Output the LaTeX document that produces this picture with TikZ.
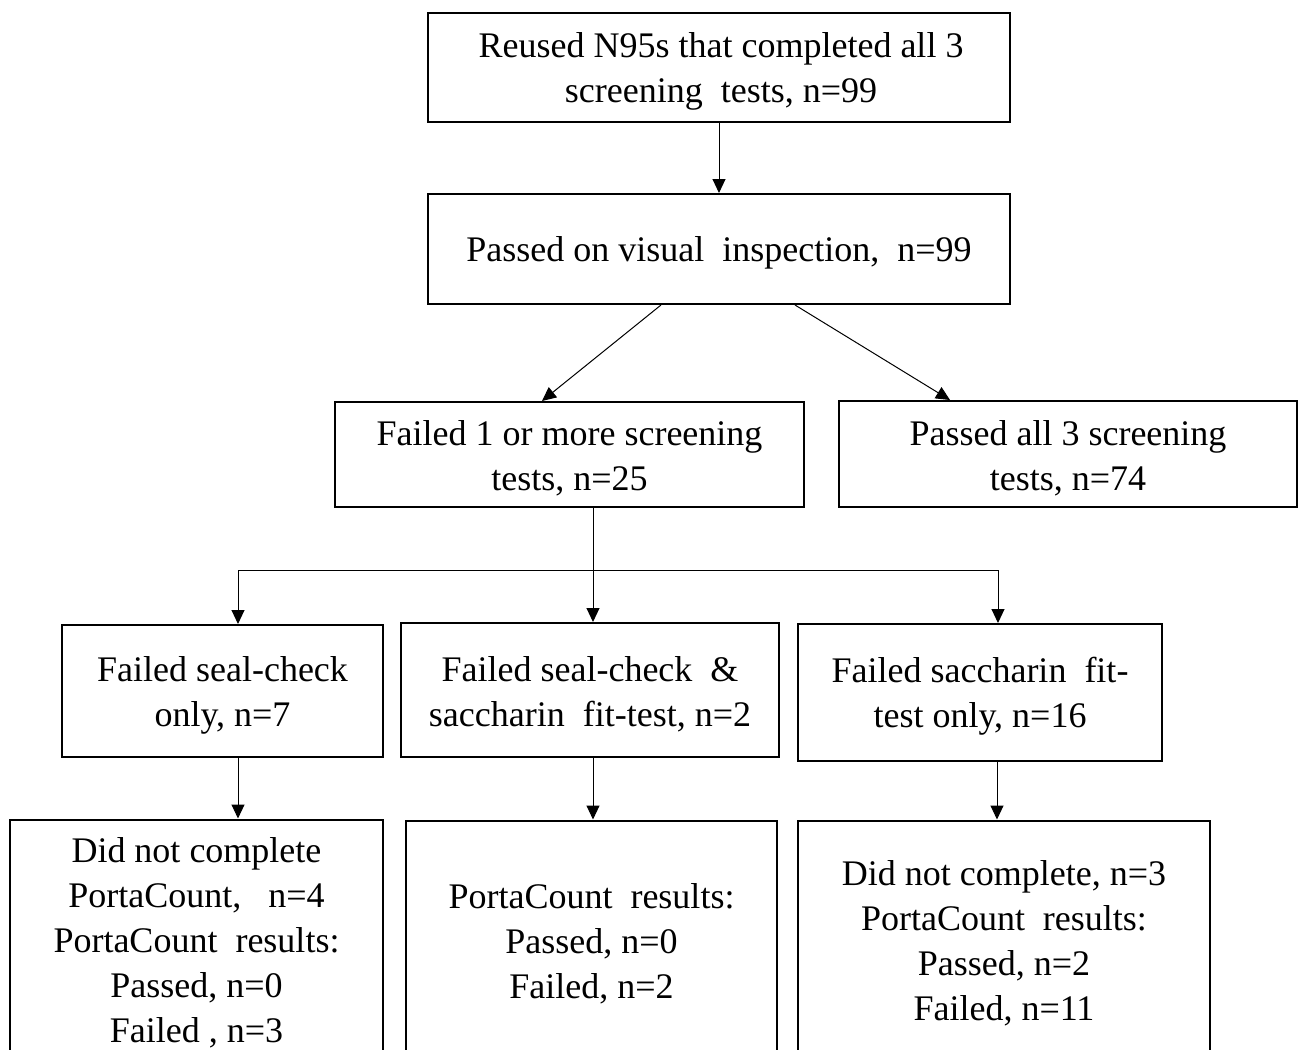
\documentclass[tikz,border=0pt]{standalone}
\usepackage{fontspec}
\setmainfont{Liberation Serif}
\usetikzlibrary{arrows.meta,calc}
\tikzset{
  box/.style={draw, line width=1pt, inner sep=0pt},
  txt/.style={align=center, inner sep=0pt, font=\fontsize{18}{22.5}\selectfont},
  arr/.style={line width=0.5pt, -{Triangle[length=7pt,width=6.5pt]}},
  ln/.style={line width=0.5pt}
}
\begin{document}
\begin{tikzpicture}[x=0.5pt,y=-0.5pt]
\useasboundingbox (0,0) rectangle (1298,1050);
\node[box, minimum width=291pt, minimum height=54.5pt] (b1) at (719,67.5) {};
\node[box, minimum width=291pt, minimum height=55pt] (b2) at (719,249) {};
\node[box, minimum width=234.5pt, minimum height=52.5pt] (b3) at (569.5,454.5) {};
\node[box, minimum width=229pt, minimum height=53pt] (b4) at (1068,454) {};
\node[box, minimum width=160.5pt, minimum height=66pt] (b5) at (222.5,691) {};
\node[box, minimum width=189pt, minimum height=67pt] (b6) at (590,690) {};
\node[box, minimum width=182pt, minimum height=68.5pt] (b7) at (980,692.5) {};
\node[box, minimum width=186.5pt, minimum height=119pt] (b8) at (196.5,938.5) {};
\node[box, minimum width=185.5pt, minimum height=119pt] (b9) at (591.5,939.5) {};
\node[box, minimum width=206pt, minimum height=119pt] (b10) at (1004,939.5) {};
% texts
\node[txt] (t1) at ([xshift=1pt,yshift=-2pt]b1.center)
  {Reused N95s that completed all 3\\screening\ \ tests, n=99};
\node[txt] (t2) at ([yshift=-2pt]b2.center)
  {Passed on visual\ \ inspection,\ \ n=99};
\node[txt] (t3) at ([yshift=-2pt]b3.center)
  {Failed 1 or more screening\\tests, n=25};
\node[txt] (t4) at ([yshift=-2pt]b4.center)
  {Passed all 3 screening\\tests, n=74};
\node[txt] (t5) at ([yshift=-2pt]b5.center)
  {Failed seal-check\\only, n=7};
\node[txt] (t6) at ([yshift=-2pt]b6.center)
  {Failed seal-check\ \ \&\\saccharin\ \ fit-test, n=2};
\node[txt] (t7) at ([yshift=-2pt]b7.center)
  {Failed saccharin\ \ fit-\\test only, n=16};
\node[txt] (t8) at ([yshift=-2pt]b8.center)
  {Did not complete\\PortaCount,\ \ \ n=4\\PortaCount\ \ results:\\Passed, n=0\\Failed , n=3};
\node[txt] (t9) at ([yshift=-2pt]b9.center)
  {PortaCount\ \ results:\\Passed, n=0\\Failed, n=2};
\node[txt] (t10) at ([yshift=-2pt]b10.center)
  {Did not complete, n=3\\PortaCount\ \ results:\\Passed, n=2\\Failed, n=11};
% connectors
\draw[arr] (b1.south) -- (b2.north);
\draw[arr] ([xshift=-29pt]b2.south) -- ([xshift=-13.75pt]b3.north);
\draw[arr] ([xshift=38pt]b2.south) -- ([xshift=-59pt]b4.north);
\coordinate (split) at (593,570);
\draw[ln] (b3.south -| split) -- (split);
\draw[arr] (split) -| ([xshift=7.75pt]b5.north);
\draw[arr] (split) -- (split |- b6.north);
\draw[arr] (split) -| ([xshift=9pt]b7.north);
\draw[arr] ([xshift=7.75pt]b5.south) -- ([xshift=7.75pt]b5.south |- b8.north);
\draw[arr] ([xshift=1.5pt]b6.south) -- ([xshift=1.5pt]b6.south |- b9.north);
\draw[arr] ([xshift=8.5pt]b7.south) -- ([xshift=8.5pt]b7.south |- b10.north);
\end{tikzpicture}
\end{document}
